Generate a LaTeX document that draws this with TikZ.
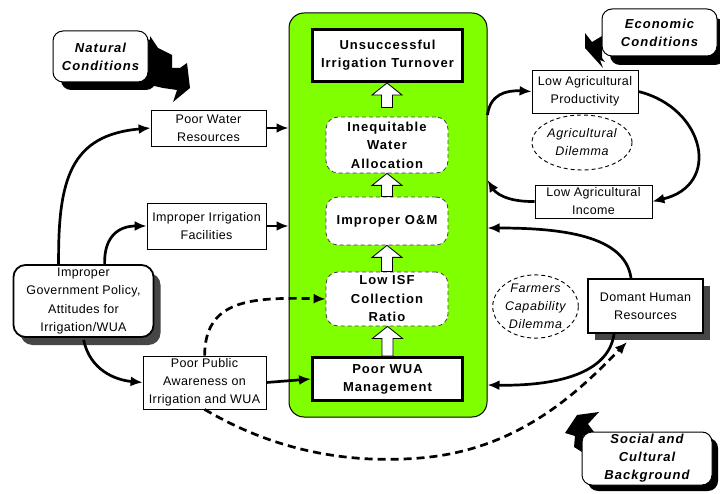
\documentclass[tikz,border=0pt]{standalone}
\usepackage{fontspec}
\setmainfont{Liberation Sans}
\newfontfamily\plainface[LetterSpace=3]{Liberation Sans}
\newfontfamily\wideface[LetterSpace=8]{Liberation Sans}
\newfontfamily\ovalface[LetterSpace=5]{Liberation Sans}
\usetikzlibrary{arrows.meta,calc,shapes.geometric,shadows}
\definecolor{leaf}{RGB}{128,255,0}
\definecolor{shade}{RGB}{70,70,70}

% hollow block arrow pointing up, from #1 (base) to #2 (tip)
\newcommand\blockup[2]{%
  \draw[line width=0.8pt,fill=white] let \p1=(#1), \p2=(#2) in
    (\x1-5.5pt,\y1) -- (\x1-5.5pt,\y2-12pt) -- (\x1-15pt,\y2-12pt) -- (\x1,\y2)
    -- (\x1+15pt,\y2-12pt) -- (\x1+5.5pt,\y2-12pt) -- (\x1+5.5pt,\y1) -- cycle;}

\begin{document}
\begin{tikzpicture}[x=1pt,y=-1pt,
  plainbox/.style={draw,line width=0.8pt,fill=white,inner sep=0pt,align=center,
    font=\plainface\fontsize{12.5}{18}\selectfont},
  keybox/.style={draw,line width=3pt,fill=white,inner sep=0pt,align=center,
    font=\wideface\bfseries\fontsize{13}{18}\selectfont},
  stepbox/.style={draw=black!75,line width=0.8pt,dash pattern=on 4pt off 3pt,
    rounded corners=12pt,fill=white,inner sep=0pt,align=center,
    minimum width=122pt,font=\wideface\bfseries\fontsize{13}{18.5}\selectfont},
  condbox/.style={draw,line width=1pt,rounded corners=10pt,fill=white,inner sep=0pt,
    align=center,font=\wideface\bfseries\itshape\fontsize{13}{18}\selectfont},
  oval/.style={ellipse,draw,line width=0.9pt,dash pattern=on 4pt off 3pt,inner sep=0pt,
    align=center,font=\ovalface\itshape\fontsize{12.5}{18}\selectfont},
  link/.style={line width=2.7pt,-{Latex[length=12pt,width=10pt]}},
  dlink/.style={link,dash pattern=on 8pt off 5pt},
]
\fill[white] (0,0) rectangle (720,494);
\useasboundingbox (0,0) rectangle (720,494);

% central panel
\node[draw,line width=1pt,fill=leaf,rounded corners=15pt,minimum width=198pt,
  minimum height=404pt,inner sep=0pt] (core) at (388,215) {};

\node[keybox,minimum width=150pt,minimum height=52pt] (uit) at (387.5,55.5)
  {Unsuccessful\\Irrigation Turnover};
\node[stepbox,minimum height=56pt] (iwa) at (387,145) {Inequitable\\Water\\Allocation};
\node[stepbox,minimum height=48pt] (iom) at (387,221) {Improper O\&M};
\node[stepbox,minimum height=54pt] (isf) at (387,299) {Low ISF\\Collection\\Ratio};
\node[keybox,minimum width=150pt,minimum height=43pt] (wua) at (387.5,379)
  {Poor WUA\\Management};

\blockup{$(iwa.north)+(0,-9)$}{uit.south}
\blockup{iom.north}{iwa.south}
\blockup{isf.north}{iom.south}
\blockup{wua.north}{isf.south}

% callout arrows behind the condition boxes
\fill[black] (150,36) -- (158,48) -- (172,55) -- (172,68) -- (180,68) -- (187,63)
  -- (190,88) -- (173,102) -- (177,90) -- (163,88) -- (150,85) -- cycle;
\fill[black] (585,33) -- (592,42) -- (602,36) -- (602,58) -- (605,62) -- (600,60)
  -- (603,68) -- (585,48) -- cycle;
\fill[black] (565,433) -- (577,415) -- (599,412) -- (588,424) -- (594,432) -- (583,436)
  -- (582,452) -- (574,447) -- (575,436) -- cycle;

\node[condbox,minimum width=95pt,minimum height=51pt,
  drop shadow={shadow xshift=8pt,shadow yshift=-8pt,fill=black,opacity=1}]
  (nat) at (100.5,56.5) {Natural\\Conditions};
\node[condbox,minimum width=115pt,minimum height=47pt,
  drop shadow={shadow xshift=8pt,shadow yshift=-9pt,fill=black,opacity=1}]
  (eco) at (659.5,32.5) {Economic\\Conditions};
\node[condbox,minimum width=130pt,minimum height=53pt,
  drop shadow={shadow xshift=6pt,shadow yshift=-6pt,fill=black,opacity=1}]
  (scb) at (647,458.5) {Social and\\Cultural\\Background};

% left-hand causes
\node[plainbox,minimum width=115pt,minimum height=36pt] (pwr) at (208.5,128)
  {Poor Water\\Resources};
\node[plainbox,minimum width=119pt,minimum height=46pt] (iif) at (206.5,226)
  {Improper Irrigation\\Facilities};
\node[plainbox,minimum width=123pt,minimum height=53pt] (ppa) at (204.5,382.5)
  {Poor Public\\Awareness on\\Irrigation and WUA};
\node[plainbox,line width=1.8pt,rounded corners=12pt,minimum width=140pt,minimum height=72pt,
  font=\plainface\fontsize{12.5}{18.5}\selectfont,
  drop shadow={shadow xshift=7pt,shadow yshift=-8pt,fill=shade,opacity=1}]
  (igp) at (83.5,301) {Improper\\Government Policy,\\Attitudes for\\Irrigation/WUA};

% right-hand causes
\node[plainbox,minimum width=106pt,minimum height=43pt] (lap) at (585,91.5)
  {Low Agricultural\\Productivity};
\node[plainbox,minimum width=117pt,minimum height=33pt] (lai) at (593.5,201.5)
  {Low Agricultural\\Income};
\node[plainbox,line width=2pt,minimum width=115pt,minimum height=54pt,
  drop shadow={shadow xshift=7pt,shadow yshift=-7pt,fill=shade,opacity=1}]
  (dhr) at (645.5,306) {Domant Human\\Resources};

\node[oval,minimum width=100pt,minimum height=55pt] (agd) at (582,142.5) {Agricultural\\Dilemma};
\node[oval,minimum width=85pt,minimum height=63pt] (fcd) at (535.5,306.5)
  {Farmers\\Capability\\Dilemma};

\coordinate (dhrin) at ($(dhr.south west)+(40,8)$);

% connectors on the left
\draw[link] ($(igp.north west)+(46,0)$) .. controls (58,180) and (70,135) .. (pwr.west);
\draw[link] ($(igp.north west)+(92,0)$) .. controls (104,235) and (120,226) .. (iif.west);
\draw[link] ($(igp.south west)+(71,2)$) .. controls (90,370) and (115,380) .. (ppa.west);
\draw[link] (pwr.east) -- (pwr.east -| core.west);
\draw[link] (iif.east) -- (iif.east -| core.west);
\draw[link] (ppa.east) -- (wua.west);
\draw[dlink] ($(ppa.north west)+(62,0)$) .. controls (205,300) and (250,297) .. (isf.west);
\draw[dlink] ($(ppa.south west)+(62,0)$) .. controls (290,460) and (370,462) .. (420,458)
  .. controls (520,450) and (580,390) .. (dhrin);

% connectors on the right
\draw[link] ($(core.east)+(0,-100)$) .. controls (490,95) and (505,90) .. (lap.west);
\draw[link] (lap.east) .. controls (705,108) and (722,185) .. (lai.east);
\draw[link] (lai.west) .. controls (505,202) and (495,192) .. ($(core.east)+(0,-35)$);
\draw[link] ($(dhr.north west)+(44,0)$) .. controls (625,235) and (560,228) .. ($(core.east)+(0,13)$);
\draw[link] ($(dhr.south west)+(27,0)$) .. controls (608,378) and (545,386) .. ($(core.east)+(0,170)$);
\end{tikzpicture}
\end{document}
